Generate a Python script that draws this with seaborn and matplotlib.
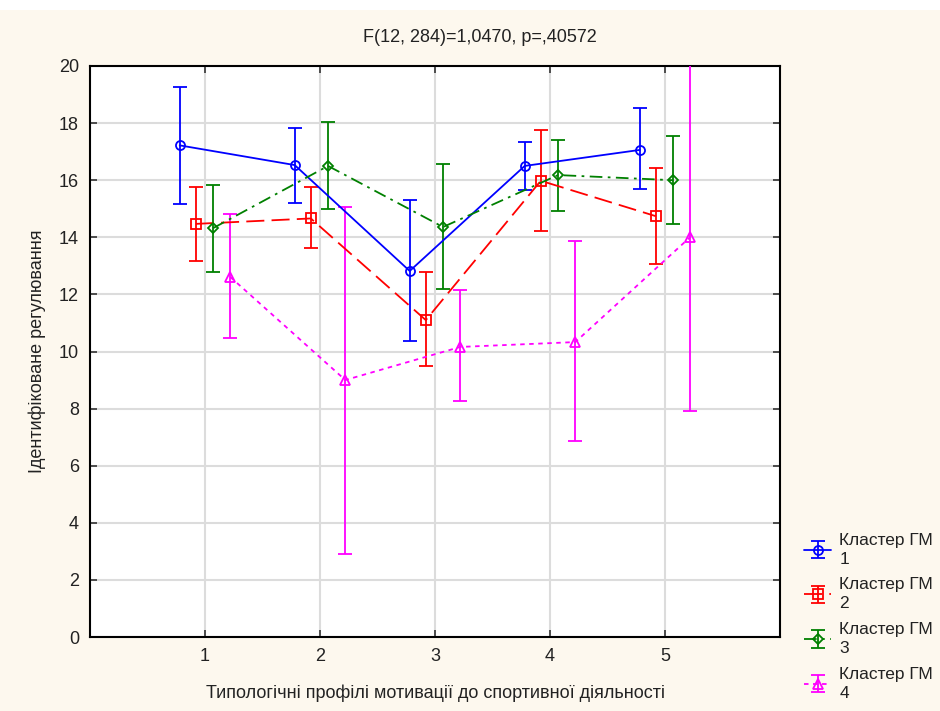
import numpy as np
import pandas as pd
import matplotlib
matplotlib.use("Agg")
import matplotlib.pyplot as plt
import seaborn as sns

# ---- data ----
profiles = [1, 2, 3, 4, 5]
series_names = ["Кластер ГМ\n1", "Кластер ГМ\n2", "Кластер ГМ\n3", "Кластер ГМ\n4"]
means_1 = [17.22, 16.53, 12.82, 16.50, 17.06]
lo_1 = [15.15, 15.20, 10.37, 15.66, 15.69]
hi_1 = [19.26, 17.83, 15.30, 17.34, 18.53]
means_2 = [14.47, 14.66, 11.10, 15.98, 14.74]
lo_2 = [13.17, 13.63, 9.49, 14.22, 13.08]
hi_2 = [15.76, 15.76, 12.78, 17.76, 16.44]
means_3 = [14.32, 16.50, 14.36, 16.18, 16.00]
lo_3 = [12.78, 14.99, 12.19, 14.92, 14.45]
hi_3 = [15.83, 18.04, 16.57, 17.41, 17.55]
means_4 = [12.61, 9.00, 10.16, 10.33, 14.01]
lo_4 = [10.46, 2.91, 8.27, 6.85, 7.90]
hi_4 = [14.82, 15.06, 12.15, 13.87, 20.60]

means = [means_1, means_2, means_3, means_4]
los = [lo_1, lo_2, lo_3, lo_4]
his = [hi_1, hi_2, hi_3, hi_4]

colors = ["#0000ff", "#ff0000", "#008000", "#ff00ff"]
markers = ["o", "s", "D", "^"]
dashes = [(None, None), (10, 4), (7, 3, 1.5, 3), (2.5, 2.5)]
offsets = [-0.22, -0.08, 0.07, 0.22]

rows = []
for k, name in enumerate(series_names):
    for j, p in enumerate(profiles):
        rows.append({"series": name, "x": p + offsets[k], "mean": means[k][j],
                     "lo": los[k][j], "hi": his[k][j]})
df = pd.DataFrame(rows)

sns.set_theme(style="white")
plt.rcParams["font.family"] = ["Liberation Sans Narrow", "Liberation Sans", "DejaVu Sans"]

fig = plt.figure(figsize=(9.4, 7.11), dpi=100)
fig.patch.set_facecolor("#fdf8ee")
fig.patches.append(plt.Rectangle((0, 0.986), 1, 0.02, transform=fig.transFigure,
                                 facecolor="white", edgecolor="none", zorder=0))
ax = fig.add_axes([90 / 940, 1 - 637 / 711, 690 / 940, 571 / 711])
ax.set_facecolor("white")

for k, name in enumerate(series_names):
    sub = df[df["series"] == name]
    ls = "-" if k == 0 else (0, dashes[k])
    ms = 6.5 if k != 2 else 5.5
    ax.errorbar(sub["x"], sub["mean"],
                yerr=[sub["mean"] - sub["lo"], sub["hi"] - sub["mean"]],
                fmt="none", ecolor=colors[k], elinewidth=1.3, capsize=5,
                capthick=1.3, zorder=3)
    sns.lineplot(data=sub, x="x", y="mean", ax=ax, color=colors[k], lw=1.3,
                 linestyle=ls, marker=markers[k], markersize=ms,
                 markerfacecolor="none", markeredgecolor=colors[k],
                 markeredgewidth=1.3, errorbar=None, sort=False, zorder=4,
                 legend=False)
    # legend proxy
    ax.errorbar([np.nan], [np.nan], yerr=[1], fmt=markers[k], linestyle=ls,
                color=colors[k], lw=1.3, ms=ms, mfc="none",
                mew=1.3, capsize=5, label=name)

ax.set_xlim(0, 6)
ax.set_ylim(0, 20)
ax.set_xticks(profiles)
ax.set_xticklabels([str(p) for p in profiles])
ax.set_yticks(range(0, 21, 2))
ax.grid(True, color="#dcdcdc", lw=1.5)
ax.set_axisbelow(True)
for s in ax.spines.values():
    s.set_color("black")
    s.set_linewidth(1.5)
ax.tick_params(direction="in", length=5, width=1.2, color="#333333",
               top=True, right=True, left=True, bottom=True,
               labelsize=13, pad=8, labelcolor="#222222")
ax.set_xlabel("Типологічні профілі мотивації до спортивної діяльності",
              fontsize=13, color="#222222", labelpad=14)
ax.set_ylabel("Ідентифіковане регулювання", fontsize=13, color="#222222",
              labelpad=9)
fig.text(480 / 940, 1 - 37 / 711, "F(12, 284)=1,0470, p=,40572",
         ha="center", va="center", fontsize=13, color="#222222")

handles, labels = ax.get_legend_handles_labels()
leg = fig.legend(handles, labels, loc="upper left",
                 bbox_to_anchor=(795 / 940, 1 - 524 / 711),
                 frameon=False, fontsize=12.5, handlelength=1.6,
                 handletextpad=0.45, labelspacing=0.6, borderpad=0)
for t in leg.get_texts():
    t.set_color("#222222")
    t.set_linespacing(1.35)

fig.savefig("out.png", dpi=100, facecolor=fig.get_facecolor())
